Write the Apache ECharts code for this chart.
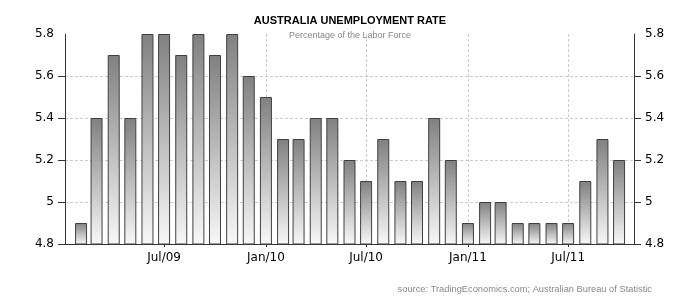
<!DOCTYPE html>
<html>
<head>
<meta charset="utf-8">
<script src="https://cdn.jsdelivr.net/npm/echarts@6/dist/echarts.min.js"></script>
<style>html,body{margin:0;padding:0;background:#fff}#c{width:700px;height:300px}</style>
</head>
<body>
<div id="c"></div>
<script>
// Data
const months = ['2009-02','2009-03','2009-04','2009-05','2009-06','2009-07','2009-08','2009-09','2009-10','2009-11','2009-12',
  '2010-01','2010-02','2010-03','2010-04','2010-05','2010-06','2010-07','2010-08','2010-09','2010-10','2010-11','2010-12',
  '2011-01','2011-02','2011-03','2011-04','2011-05','2011-06','2011-07','2011-08','2011-09','2011-10'];
const rates = [4.9,5.4,5.7,5.4,5.8,5.8,5.7,5.8,5.7,5.8,5.6,
  5.5,5.3,5.3,5.4,5.4,5.2,5.1,5.3,5.1,5.1,5.4,5.2,
  4.9,5.0,5.0,4.9,4.9,4.9,4.9,5.1,5.3,5.2];
const tickMonths = ['2009-07','2010-01','2010-07','2011-01','2011-07'];
const tickLabels = ['Jul/09','Jan/10','Jul/10','Jan/11','Jul/11'];
const yTicks = [4.8,5,5.2,5.4,5.6];
const axisStart = '2009-01-03';
const axisEnd = '2011-10-28';

// day number (UTC-based, timezone independent)
function dn(s){const p=s.split('-').map(Number);return Date.UTC(p[0],p[1]-1,p[2]||1)/86400000;}
const tickDays = tickMonths.map(dn);

const chart = echarts.init(document.getElementById('c'), null, {renderer:'canvas'});
const labelFont = {fontFamily:'DejaVu Sans', fontSize:12, color:'#000'};
function yAxisBase(pos, split){
  return {
    type:'value', position:pos, min:4.8, max:5.8, interval:0.2,
    axisLine:{show:true, lineStyle:{color:'#333', width:1}},
    axisTick:{show:true, length:7, customValues:yTicks, lineStyle:{color:'#333'}},
    axisLabel:Object.assign({margin:11}, labelFont),
    splitLine:{show:split, lineStyle:{color:'#ccc', type:[3,2]}}
  };
}
chart.setOption({
  animation:false,
  title:[
    {text:'AUSTRALIA UNEMPLOYMENT RATE', left:'center', top:10,
     textStyle:{fontFamily:'Liberation Sans', fontWeight:'bold', fontSize:11, color:'#000'}},
    {text:'Percentage of the Labor Force', left:'center', top:26,
     textStyle:{fontFamily:'Liberation Sans', fontWeight:'normal', fontSize:9, color:'#888'}},
    {text:'source: TradingEconomics.com; Australian Bureau of Statistic', right:43, top:280,
     textStyle:{fontFamily:'Liberation Sans', fontWeight:'normal', fontSize:9.3, color:'#888'}}
  ],
  grid:{left:65, right:66, top:34, bottom:56},
  xAxis:{
    type:'value', min:dn(axisStart), max:dn(axisEnd), scale:true,
    axisLine:{show:true, lineStyle:{color:'#333', width:1}},
    axisTick:{show:true, length:3, customValues:tickDays, lineStyle:{color:'#333'}},
    axisLabel:Object.assign({margin:8, customValues:tickDays, hideOverlap:false,
      formatter:function(v){const i=tickDays.indexOf(Math.round(v));return i>=0?tickLabels[i]:'';}}, labelFont),
    splitLine:{show:true, lineStyle:{color:'#ccc', type:[3,2]}}
  },
  yAxis:[yAxisBase('left', true), yAxisBase('right', false)],
  series:[{
    type:'bar', yAxisIndex:0, barWidth:12,
    data:months.map((m,i)=>[dn(m), rates[i]]),
    itemStyle:{
      color:new echarts.graphic.LinearGradient(0,0,0,1,[{offset:0,color:'#808080'},{offset:1,color:'#f8f8f8'}]),
      borderColor:'#404040', borderWidth:1
    }
  }]
});
</script>
</body>
</html>
